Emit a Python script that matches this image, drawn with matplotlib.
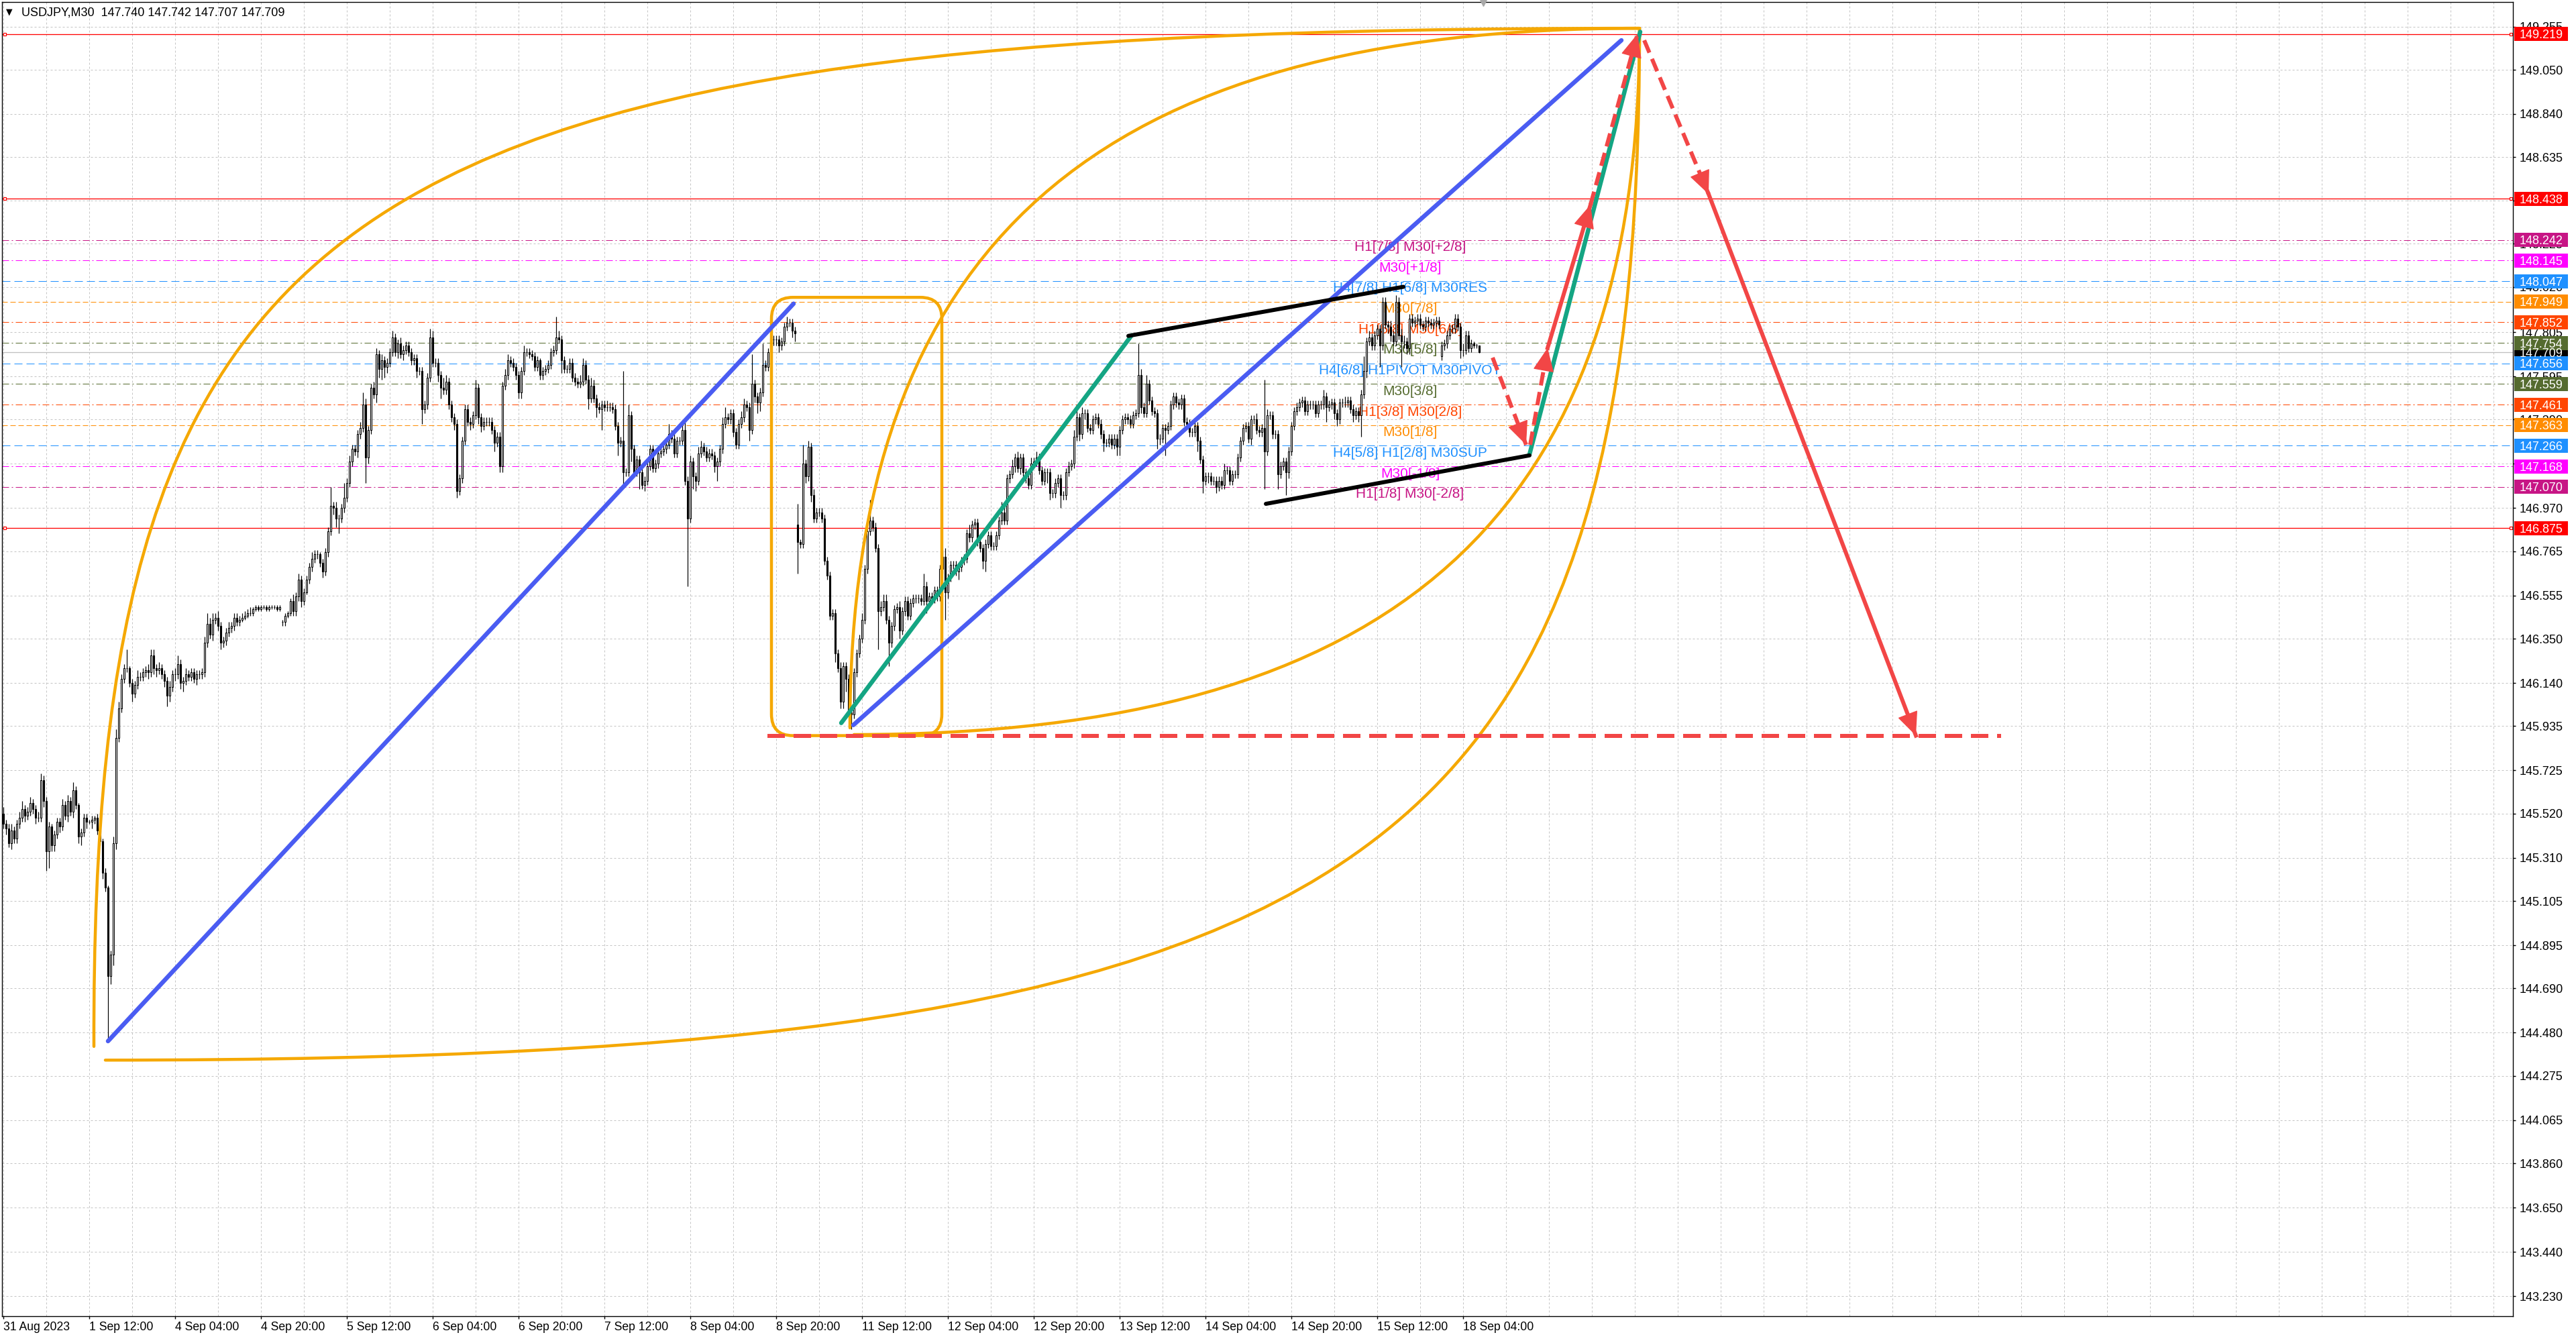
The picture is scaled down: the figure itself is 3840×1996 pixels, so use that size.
import numpy as np
import matplotlib
matplotlib.use("Agg")
import matplotlib.pyplot as plt
from matplotlib.path import Path
from matplotlib.patches import PathPatch, FancyBboxPatch, Rectangle
import matplotlib.transforms as mtransforms

plt.rcParams['lines.scale_dashes'] = False
plt.rcParams['font.family'] = ['Liberation Sans', 'DejaVu Sans']

# ------------------------------------------------------------------ data
symbol = "USDJPY,M30"
header_values = ["147.740", "147.742", "147.707", "147.709"]

x_labels = ["31 Aug 2023", "1 Sep 12:00", "4 Sep 04:00", "4 Sep 20:00", "5 Sep 12:00",
            "6 Sep 04:00", "6 Sep 20:00", "7 Sep 12:00", "8 Sep 04:00", "8 Sep 20:00",
            "11 Sep 12:00", "12 Sep 04:00", "12 Sep 20:00", "13 Sep 12:00", "14 Sep 04:00",
            "14 Sep 20:00", "15 Sep 12:00", "18 Sep 04:00"]
bars_per_label = 32

y_ticks = [149.255, 149.050, 148.840, 148.635, 148.430, 148.225, 148.020, 147.805, 147.595,
           147.390, 147.180, 146.970, 146.765, 146.555, 146.350, 146.140, 145.935, 145.725,
           145.520, 145.310, 145.105, 144.895, 144.690, 144.480, 144.275, 144.065, 143.860,
           143.650, 143.440, 143.230]

# M30 closes, one per bar
closes = [
    145.47, 145.45, 145.38, 145.44, 145.40, 145.47, 145.50, 145.54, 145.51, 145.53,
    145.57, 145.54, 145.50, 145.50, 145.68, 145.58, 145.34, 145.46, 145.37, 145.42,
    145.48, 145.46, 145.56, 145.51, 145.58, 145.53, 145.63, 145.56, 145.41, 145.43,
    145.50, 145.48, 145.48, 145.49, 145.50, 145.44, 145.39, 145.24, 145.17, 144.75,
    144.85, 145.38, 145.88, 146.02, 146.16, 146.21, 146.21, 146.14, 146.09, 146.13,
    146.17, 146.17, 146.19, 146.20, 146.19, 146.27, 146.21, 146.20, 146.21, 146.18,
    146.15, 146.08, 146.12, 146.18, 146.18, 146.23, 146.14, 146.15, 146.18, 146.17,
    146.19, 146.16, 146.18, 146.18, 146.19, 146.33, 146.42, 146.37, 146.44, 146.45,
    146.41, 146.33, 146.34, 146.38, 146.40, 146.41, 146.45, 146.43, 146.44, 146.45,
    146.46, 146.47, 146.47, 146.49, 146.50, 146.49, 146.50, 146.50, 146.49, 146.50,
    146.50, 146.50, 146.49, 146.50, 146.43, 146.46, 146.47, 146.53, 146.48, 146.55,
    146.63, 146.53, 146.57, 146.63, 146.69, 146.73, 146.75, 146.75, 146.71, 146.67,
    146.76, 146.86, 146.98, 146.97, 146.92, 146.92, 146.97, 147.02, 147.09, 147.19,
    147.25, 147.24, 147.32, 147.35, 147.46, 147.21, 147.34, 147.54, 147.51, 147.70,
    147.63, 147.67, 147.64, 147.66, 147.71, 147.78, 147.71, 147.75, 147.70, 147.72,
    147.74, 147.71, 147.67, 147.68, 147.62, 147.62, 147.44, 147.46, 147.59, 147.78,
    147.66, 147.66, 147.60, 147.54, 147.53, 147.57, 147.46, 147.40, 147.37, 147.05,
    147.11, 147.29, 147.44, 147.38, 147.37, 147.41, 147.54, 147.40, 147.36, 147.38,
    147.38, 147.38, 147.34, 147.28, 147.31, 147.17, 147.55, 147.60, 147.67, 147.66,
    147.64, 147.60, 147.52, 147.62, 147.71, 147.71, 147.70, 147.69, 147.64, 147.67,
    147.60, 147.62, 147.63, 147.65, 147.71, 147.72, 147.78, 147.77, 147.67, 147.63,
    147.63, 147.66, 147.59, 147.57, 147.56, 147.57, 147.65, 147.58, 147.49, 147.55,
    147.49, 147.45, 147.44, 147.46, 147.45, 147.45, 147.45, 147.44, 147.36, 147.28,
    147.29, 147.14, 147.14, 147.41, 147.25, 147.14, 147.20, 147.14, 147.08, 147.10,
    147.17, 147.25, 147.16, 147.18, 147.23, 147.24, 147.25, 147.27, 147.32, 147.30,
    147.23, 147.29, 147.29, 147.34, 147.10, 146.92, 147.19, 147.12, 147.10, 147.23,
    147.26, 147.24, 147.21, 147.23, 147.22, 147.17, 147.19, 147.25, 147.37, 147.40,
    147.39, 147.42, 147.33, 147.27, 147.37, 147.40, 147.46, 147.45, 147.34, 147.56,
    147.50, 147.47, 147.52, 147.65, 147.64, 147.71, 147.77, 147.77, 147.77, 147.74,
    147.76, 147.83, 147.85, 147.85, 147.81, 147.80, 146.81, 146.80, 147.18, 147.12,
    147.26, 147.03, 146.92, 146.95, 146.95, 146.92, 146.72, 146.65, 146.46, 146.47,
    146.28, 146.21, 146.05, 146.22, 146.16, 146.00, 145.99, 146.19, 146.28, 146.35,
    146.44, 146.68, 146.86, 146.91, 146.88, 146.78, 146.48, 146.50, 146.53, 146.44,
    146.33, 146.41, 146.49, 146.50, 146.39, 146.48, 146.53, 146.46, 146.52, 146.54,
    146.54, 146.54, 146.53, 146.60, 146.53, 146.55, 146.54, 146.58, 146.55, 146.68,
    146.74, 146.57, 146.64, 146.70, 146.70, 146.67, 146.69, 146.72, 146.73, 146.85,
    146.83, 146.89, 146.90, 146.81, 146.78, 146.72, 146.80, 146.84, 146.79, 146.79,
    146.84, 146.91, 146.95, 146.91, 147.11, 147.13, 147.17, 147.21, 147.16, 147.21,
    147.14, 147.11, 147.08, 147.18, 147.19, 147.21, 147.15, 147.10, 147.14, 147.14,
    147.04, 147.04, 147.09, 147.11, 147.03, 147.03, 147.14, 147.17, 147.18, 147.31,
    147.40, 147.32, 147.42, 147.42, 147.35, 147.34, 147.39, 147.40, 147.37, 147.32,
    147.28, 147.28, 147.30, 147.27, 147.30, 147.26, 147.34, 147.39, 147.40, 147.39,
    147.37, 147.41, 147.42, 147.60, 147.45, 147.42, 147.56, 147.48, 147.43, 147.42,
    147.30, 147.30, 147.35, 147.34, 147.36, 147.46, 147.50, 147.47, 147.46, 147.49,
    147.38, 147.37, 147.33, 147.33, 147.36, 147.29, 147.20, 147.10, 147.12, 147.12,
    147.10, 147.10, 147.07, 147.10, 147.08, 147.15, 147.15, 147.10, 147.13, 147.13,
    147.21, 147.29, 147.35, 147.36, 147.30, 147.39, 147.39, 147.34, 147.33, 147.35,
    147.24, 147.41, 147.41, 147.32, 147.32, 147.13, 147.17, 147.19, 147.14, 147.24,
    147.36, 147.43, 147.45, 147.47, 147.48, 147.43, 147.46, 147.46, 147.46, 147.42,
    147.46, 147.46, 147.50, 147.45, 147.46, 147.47, 147.42, 147.39, 147.47, 147.47,
    147.47, 147.48, 147.44, 147.41, 147.43, 147.41, 147.51, 147.62, 147.76, 147.78,
    147.74, 147.79, 147.82, 147.74, 147.95, 147.84, 147.83, 147.79, 147.76, 147.95,
    147.79, 147.76, 147.76, 147.73, 147.87, 147.85, 147.86, 147.87, 147.84, 147.83,
    147.86, 147.85, 147.84, 147.85, 147.86, 147.84, 147.74, 147.75, 147.79, 147.82,
    147.82, 147.87, 147.83, 147.72, 147.72, 147.79, 147.73, 147.75, 147.74, 147.74,
    147.709,
]
first_open = 145.52
gap_opens = {104: 146.43, 296: 146.89, 536: 147.69}   # bars opening away from the prior close

# wick lengths beyond the body, in 0.01 yen
wick_up = [
    3, 2, 2, 3, 2, 2, 3, 4, 2, 2,   3, 2, 2, 3, 3, 2, 2, 2, 1, 2,
    2, 2, 3, 2, 3, 2, 4, 2, 1, 2,   2, 2, 1, 2, 1, 2, 1, 1, 2, 1,
    2, 3, 4, 3, 2, 2, 9, 1, 2, 2,   3, 2, 2, 2, 3, 3, 3, 2, 3, 2,
    2, 2, 3, 2, 3, 4, 2, 2, 3, 2,   2, 2, 2, 2, 2, 3, 5, 3, 3, 2,
    3, 2, 2, 2, 3, 2, 2, 2, 2, 2,   2, 2, 3, 1, 1, 1, 1, 1, 1, 1,
    1, 1, 1, 1, 1, 1, 1, 1, 3, 2,   3, 2, 2, 2, 2, 3, 2, 2, 1, 2,
    2, 2, 9, 2, 3, 2, 2, 7, 2, 3,   2, 2, 2, 3, 6, 3, 2, 2, 3, 3,
    2, 3, 2, 2, 2, 3, 2, 2, 3, 2,   2, 2, 2, 2, 2, 2, 2, 2, 2, 4,
    3, 2, 2, 2, 5, 3, 2, 2, 2, 2,   2, 2, 2, 2, 2, 2, 4, 2, 2, 2,
    2, 2, 2, 2, 2, 2, 2, 3, 3, 2,   2, 2, 2, 2, 3, 2, 2, 2, 2, 2,
    1, 2, 2, 2, 2, 2, 10, 3, 2, 2,  2, 2, 2, 2, 2, 3, 3, 2, 2, 4,
    3, 2, 2, 2, 2, 3, 2, 2, 2, 2,   2, 33, 2, 5, 2, 2, 2, 2, 2, 2,
    2, 2, 2, 2, 2, 2, 2, 2, 5, 2,   2, 2, 2, 3, 4, 2, 3, 2, 2, 3,
    3, 2, 2, 2, 2, 2, 2, 2, 3, 5,   2, 2, 2, 2, 2, 3, 3, 2, 2, 14,
    2, 2, 2, 10, 2, 2, 3, 2, 2, 2,  2, 2, 3, 2, 2, 2, 10, 1, 9, 2,
    3, 2, 3, 2, 2, 2, 2, 2, 2, 2,   2, 2, 3, 2, 2, 2, 3, 2, 2, 2,
    3, 2, 2, 10, 2, 2, 2, 3, 3, 3,  2, 2, 2, 2, 3, 2, 2, 2, 2, 2,
    2, 2, 2, 6, 2, 2, 2, 2, 2, 2,   3, 4, 2, 2, 2, 2, 2, 2, 2, 2,
    4, 2, 2, 2, 2, 2, 2, 2, 2, 2,   2, 2, 5, 4, 2, 2, 3, 2, 3, 2,
    2, 2, 2, 3, 2, 3, 2, 2, 2, 2,   2, 2, 2, 2, 2, 2, 2, 2, 2, 3,
    6, 2, 3, 2, 2, 2, 2, 2, 2, 2,   2, 2, 2, 2, 2, 2, 2, 2, 2, 2,
    2, 2, 2, 15, 3, 2, 4, 2, 2, 2,  2, 2, 2, 2, 2, 2, 2, 2, 2, 2,
    2, 2, 2, 2, 2, 2, 2, 2, 2, 2,   2, 2, 2, 2, 2, 3, 2, 2, 2, 2,
    2, 2, 2, 2, 2, 2, 2, 3, 2, 2,   23, 3, 2, 2, 2, 2, 2, 2, 2, 2,
    2, 2, 2, 2, 2, 2, 2, 2, 2, 2,   2, 2, 3, 2, 2, 2, 2, 2, 2, 2,
    3, 2, 2, 2, 2, 2, 2, 7, 2, 3,   2, 2, 2, 2, 2, 2, 2, 3, 2, 3,
    2, 3, 3, 2, 2, 2, 2, 2, 2, 2,   2, 2, 2, 2, 2, 2, 2, 2, 2, 2,
    2, 2, 2, 2, 3, 2, 2, 2, 1, 1,
    0.2,
]
wick_dn = [
    2, 3, 2, 3, 2, 2, 2, 2, 3, 2,   2, 2, 3, 2, 2, 3, 9, 8, 3, 3,
    2, 3, 2, 2, 3, 2, 3, 2, 3, 4,   2, 3, 1, 3, 2, 2, 2, 3, 2, 30,
    4, 5, 3, 2, 2, 2, 2, 2, 4, 2,   2, 2, 2, 2, 3, 2, 3, 3, 2, 2,
    3, 5, 3, 2, 3, 2, 3, 4, 2, 2,   2, 2, 3, 2, 2, 2, 2, 2, 3, 2,
    2, 3, 2, 2, 2, 2, 2, 2, 2, 1,   1, 1, 1, 1, 1, 1, 1, 1, 1, 1,
    1, 1, 1, 1, 2, 2, 1, 1, 2, 2,   2, 3, 2, 1, 2, 2, 2, 2, 2, 3,
    2, 2, 2, 3, 4, 7, 2, 2, 2, 2,   2, 2, 3, 2, 2, 12, 3, 2, 2, 4,
    4, 5, 5, 3, 2, 2, 2, 3, 2, 3,   2, 2, 2, 2, 3, 2, 7, 2, 2, 2,
    2, 2, 3, 5, 2, 2, 2, 2, 3, 3,   2, 2, 2, 2, 3, 2, 2, 3, 3, 2,
    2, 2, 2, 4, 2, 3, 3, 2, 2, 2,   2, 2, 3, 3, 2, 2, 2, 2, 2, 2,
    2, 2, 2, 2, 2, 2, 2, 2, 6, 2,   2, 2, 2, 2, 2, 2, 2, 2, 5, 2,
    2, 5, 2, 10, 2, 2, 2, 2, 2, 6,  2, 7, 2, 2, 6, 2, 2, 8, 2, 3,
    2, 2, 2, 2, 2, 2, 2, 2, 2, 2,   2, 2, 2, 2, 2, 32, 2, 6, 5, 2,
    2, 2, 2, 2, 2, 3, 7, 2, 2, 2,   2, 2, 2, 2, 2, 2, 2, 2, 5, 2,
    3, 5, 4, 2, 2, 2, 2, 3, 3, 3,   2, 2, 2, 2, 3, 4, 15, 2, 2, 3,
    2, 3, 2, 2, 2, 2, 2, 2, 2, 2,   4, 2, 3, 3, 6, 2, 7, 2, 2, 2,
    2, 2, 2, 2, 2, 2, 18, 2, 2, 2,  11, 2, 2, 2, 4, 2, 2, 2, 2, 2,
    2, 2, 2, 2, 6, 2, 2, 2, 2, 2,   2, 13, 3, 2, 2, 2, 4, 2, 2, 2,
    2, 2, 2, 2, 2, 4, 5, 2, 2, 2,   2, 2, 2, 2, 2, 2, 2, 3, 2, 3,
    2, 2, 2, 2, 2, 2, 2, 2, 2, 5,   3, 2, 2, 2, 6, 2, 2, 2, 2, 2,
    2, 3, 2, 3, 2, 2, 2, 2, 2, 2,   4, 2, 2, 2, 2, 4, 4, 2, 2, 2,
    2, 2, 2, 2, 3, 2, 2, 2, 2, 2,   5, 3, 2, 12, 2, 2, 2, 2, 2, 2,
    2, 2, 2, 2, 2, 5, 2, 6, 2, 3,   2, 2, 3, 2, 2, 2, 2, 2, 2, 2,
    2, 2, 2, 2, 2, 3, 2, 2, 2, 2,   18, 2, 2, 2, 2, 7, 2, 2, 11, 3,
    2, 2, 2, 2, 2, 2, 2, 2, 2, 2,   2, 2, 2, 7, 2, 2, 3, 3, 2, 2,
    2, 2, 2, 3, 2, 3, 10, 2, 3, 2,  2, 2, 2, 10, 2, 2, 3, 3, 2, 2,
    2, 12, 3, 3, 3, 2, 2, 2, 2, 2,  2, 2, 2, 2, 2, 2, 2, 2, 2, 2,
    2, 2, 2, 4, 3, 2, 2, 2, 1, 1,
    0.2,
]

# Murrey-math style levels
levels = [148.242, 148.145, 148.047, 147.949, 147.852, 147.754, 147.656,
          147.559, 147.461, 147.363, 147.266, 147.168, 147.070]
level_names = ["H1[7/8] M30[+2/8]", "M30[+1/8]", "H4[7/8] H1[6/8] M30RES", "M30[7/8]",
               "H1[5/8] M30[6/8]", "M30[5/8]", "H4[6/8] H1PIVOT M30PIVOT", "M30[3/8]",
               "H1[3/8] M30[2/8]", "M30[1/8]", "H4[5/8] H1[2/8] M30SUP", "M30[-1/8]",
               "H1[1/8] M30[-2/8]"]
level_colors = ["#C71585", "#FF00FF", "#1E90FF", "#FF8C00", "#FF4500", "#556B2F", "#1E90FF",
                "#556B2F", "#FF4500", "#FF8C00", "#1E90FF", "#FF00FF", "#C71585"]
level_kinds = ["dashdot", "dashdot", "dash", "short", "dashdot", "dashdot", "dash",
               "dashdot", "dashdot", "short", "dash", "dashdot", "dashdot"]
level_label_bar = 524.25

red_levels = [149.219, 148.438, 146.875]
current_price = 147.709

# drawing objects: (bar, price) anchors
blue_lines = [((39.0, 144.44), (294.5, 147.94)), ((316.75, 145.94), (603.0, 149.19))]
teal_lines = [((312.25, 145.95), (420.5, 147.79)), ((568.75, 147.225), (610.0, 149.23))]
black_lines = [((419.25, 147.787), (521.75, 148.02)), ((470.5, 146.99), (568.75, 147.22))]
red_arrows = [((555.0, 147.684), (567.5, 147.27), "dash"),
              ((569.0, 147.27), (575.5, 147.73), "dash"),
              ((575.5, 147.73), (591.5, 148.41), "solid"),
              ((591.5, 148.41), (609.0, 149.22), "dash"),
              ((611.5, 149.19), (635.5, 148.46), "dash"),
              ((635.5, 148.46), (712.75, 145.89), "solid")]
target_line = ((284.75, 744.5), 145.89)
box_bars = (286.25, 349.75)
box_prices = (145.89, 147.97)
arc_start = [(33.75, 144.415), (38.0, 144.35), (315.5, 145.927), (317.0, 145.895)]
arc_ctrl1 = [(32.91, 148.474), (506.8, 144.35), (315.5, 148.218), (519.0, 145.895)]
arc_ctrl2 = [(125.07, 149.247), (609.75, 145.231), (406.72, 149.247), (609.75, 146.934)]
arc_end = (609.75, 149.247)

# ------------------------------------------------------------------ layout
W, H = 3840, 1996
L, R, T, B = 3, 3746, 3, 1962
fig = plt.figure(figsize=(W / 100, H / 100), dpi=100)
ax = fig.add_axes([L / W, (H - B) / H, (R - L) / W, (B - T) / H])
ax.set_xlim(-0.5, 935.25)
ax.set_ylim(143.1347, 149.3716)
px = 0.72  # points per pixel

for s in ax.spines.values():
    s.set_color("black")
    s.set_linewidth(1.0)

# grid and ticks
n = len(closes)
xt = np.arange(len(x_labels)) * bars_per_label
ax.set_xticks(xt)
ax.set_xticklabels(x_labels, ha="left")
ax.set_xticks(np.arange(16, 935, 16), minor=True)
ax.set_yticks(y_ticks)
ax.set_yticklabels([f"{v:.3f}" for v in y_ticks])
ax.yaxis.tick_right()
ax.tick_params(axis="y", which="major", direction="out", length=4 * px, width=1,
               pad=6 * px, labelsize=13, colors="black")
ax.tick_params(axis="x", which="major", direction="out", length=4 * px, width=1,
               pad=4 * px, labelsize=12.7, colors="black")
ax.tick_params(axis="x", which="minor", length=0)
gridkw = dict(color="#C4C4C4", linewidth=1 * px, linestyle=(0, (3 * px, 3 * px)))
ax.grid(True, axis="y", which="major", **gridkw)
ax.grid(True, axis="x", which="both", **gridkw)
ax.set_axisbelow(True)

# level lines
dash_map = {"dash": (0, (12 * px, 6 * px)), "short": (0, (8 * px, 4 * px)),
            "dashdot": (0, (10 * px, 4 * px, 2 * px, 4 * px))}
for v, c, k in zip(levels, level_colors, level_kinds):
    ax.axhline(v, color=c, lw=1.0 * px, linestyle=dash_map[k], zorder=1.5)
for v in red_levels:
    ax.axhline(v, color="#FF0000", lw=1.3 * px, zorder=1.6)
    ax.plot([0.5, 934.5], [v, v], ls="none", marker="s", ms=5 * px, mfc="white",
            mec="#FF0000", mew=1.2 * px, zorder=1.7)
ax.axhline(current_price, color="#C0C0C0", lw=1.3 * px, zorder=1.4)

for v, name, c in zip(levels, level_names, level_colors):
    ax.annotate(name, xy=(level_label_bar, v), xytext=(0, -1), textcoords="offset points",
                ha="center", va="top", fontsize=15, color=c, zorder=2.5)

# candles
c_arr = np.array(closes, dtype=float)
o_arr = np.empty(n)
o_arr[0] = first_open
o_arr[1:] = c_arr[:-1]
for k, v in gap_opens.items():
    o_arr[k] = v
m = min(n, len(wick_up), len(wick_dn))
up = np.array(wick_up[:m], dtype=float) * 0.01
dn = np.array(wick_dn[:m], dtype=float) * 0.01
xs = np.arange(m)
o_c, c_c = o_arr[:m], c_arr[:m]
hi = np.maximum(o_c, c_c) + up
lo = np.minimum(o_c, c_c) - dn
ax.vlines(xs, lo, hi, color="black", lw=1.2 * px, zorder=3)
bull = c_c >= o_c
ax.bar(xs[bull], (c_c - o_c)[bull], bottom=o_c[bull], width=0.72, color="white",
       edgecolor="black", linewidth=1.1 * px, zorder=3.1)
ax.bar(xs[~bull], (c_c - o_c)[~bull], bottom=o_c[~bull], width=0.72, color="black",
       edgecolor="black", linewidth=1.1 * px, zorder=3.1)

# drawing objects
ORANGE = "#F5A800"
for p0, c1, c2 in zip(arc_start, arc_ctrl1, arc_ctrl2):
    path = Path([p0, c1, c2, arc_end], [Path.MOVETO, Path.CURVE4, Path.CURVE4, Path.CURVE4])
    ax.add_patch(PathPatch(path, fill=False, ec=ORANGE, lw=4.5 * px, zorder=4,
                           capstyle="round"))

ax.add_patch(FancyBboxPatch((box_bars[0], box_prices[0]), box_bars[1] - box_bars[0],
                            box_prices[1] - box_prices[0],
                            boxstyle="round,pad=0,rounding_size=8",
                            mutation_aspect=0.012736, fill=False, ec=ORANGE,
                            lw=4.5 * px, zorder=4))

for (a, b) in blue_lines:
    ax.plot([a[0], b[0]], [a[1], b[1]], color="#4A5CF2", lw=6.5 * px, zorder=5,
            solid_capstyle="round")
for (a, b) in teal_lines:
    ax.plot([a[0], b[0]], [a[1], b[1]], color="#14A583", lw=6.5 * px, zorder=5,
            solid_capstyle="round")
for (a, b) in black_lines:
    ax.plot([a[0], b[0]], [a[1], b[1]], color="black", lw=6 * px, zorder=5,
            solid_capstyle="round")

RED = "#F24646"
(tx0, tx1), ty = target_line
ax.plot([tx0, tx1], [ty, ty], color=RED, lw=6 * px, linestyle=(0, (26 * px, 13 * px)),
        zorder=5)
for a, b, kind in red_arrows:
    ls = (0, (20 * px, 10 * px)) if kind == "dash" else "-"
    ax.plot([a[0], b[0]], [a[1], b[1]], color=RED, lw=6 * px, linestyle=ls, zorder=5.2)
    near = (a[0] + 0.97 * (b[0] - a[0]), a[1] + 0.97 * (b[1] - a[1]))
    ax.annotate("", xy=b, xytext=near,
                arrowprops=dict(arrowstyle="-|>,head_length=0.85,head_width=0.38",
                                color=RED, lw=1, shrinkA=0, shrinkB=0, mutation_scale=27),
                zorder=5.3)

# right-axis price boxes
blend = mtransforms.blended_transform_factory(ax.transAxes, ax.transData)
axw = R - L
box_h = 21 / 314.1


def price_box(v, color):
    ax.add_patch(Rectangle((1 + 2 / axw, v - box_h / 2), 80 / axw, box_h, transform=blend,
                           facecolor=color, edgecolor="none", clip_on=False, zorder=10))
    ax.text(1 + 10 / axw, v, f"{v:.3f}", transform=blend, ha="left", va="center_baseline",
            fontsize=13, color="white", clip_on=False, zorder=11)


price_box(current_price, "#000000")
for v in red_levels:
    price_box(v, "#FF0000")
for v, c in zip(levels, level_colors):
    price_box(v, c)

# header
fig.text(14 / W, 1 - 18 / H, "▼", fontsize=9, family="DejaVu Sans", ha="center",
         va="center", color="black")
fig.text(32 / W, 1 - 19 / H, symbol + "  " + " ".join(header_values), fontsize=13,
         ha="left", va="center", color="black")
# chart-shift marker
ax.plot([n + 0.5], [ax.get_ylim()[1]], marker="v", ms=9, color="#A8A8A8", clip_on=False,
        zorder=12)

fig.savefig("out.png", dpi=100, facecolor="white")
